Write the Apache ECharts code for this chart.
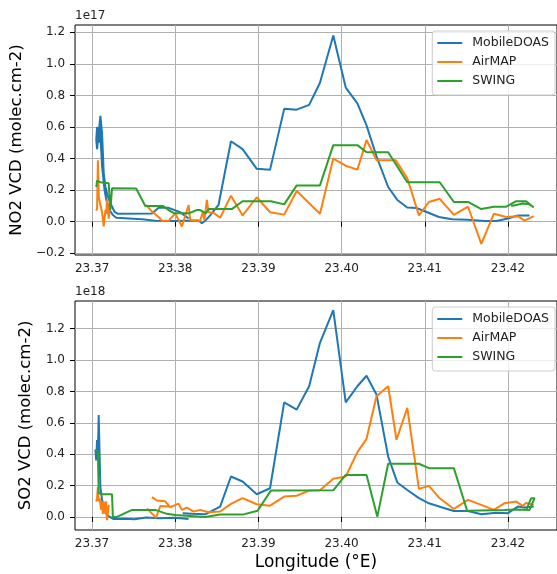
<!DOCTYPE html>
<html>
<head>
<meta charset="utf-8">
<script src="https://cdn.jsdelivr.net/npm/echarts@6/dist/echarts.min.js"></script>
<style>
html,body{margin:0;padding:0;background:#fff;}
#chart{width:557px;height:574px;}
</style>
</head>
<body>
<div id="chart"></div>
<script>
// ---- data (longitude in °E; NO2 in 1e17 molec/cm2, SO2 in 1e18 molec/cm2) ----
const seriesNames = ['MobileDOAS', 'AirMAP', 'SWING'];
const xTicks = [23.37, 23.38, 23.39, 23.40, 23.41, 23.42];
const no2Ticks = [-0.2, 0.0, 0.2, 0.4, 0.6, 0.8, 1.0, 1.2];
const so2Ticks = [0.0, 0.2, 0.4, 0.6, 0.8, 1.0, 1.2];

const no2MobileDOAS = [
  [23.3816, 0.02], [23.3806, 0.06], [23.3792, 0.088], [23.3780, 0.088], [23.3772, 0.052],
  [23.3731, 0.05], [23.3727, 0.063], [23.3723, 0.106], [23.3719, 0.159], [23.3716, 0.222],
  [23.3714, 0.307], [23.3712, 0.56], [23.3710, 0.67], [23.3709, 0.62], [23.3708, 0.50],
  [23.3707, 0.58], [23.3706, 0.60], [23.3705, 0.52], [23.3706, 0.46], [23.3708, 0.56],
  [23.3709, 0.62], [23.3711, 0.45], [23.3712, 0.35], [23.3715, 0.20], [23.3717, 0.14],
  [23.3721, 0.074], [23.3725, 0.042], [23.3729, 0.025], [23.3760, 0.015], [23.3776, 0.006],
  [23.3800, 0.004], [23.3828, 0.008], [23.3832, -0.01], [23.3836, 0.006], [23.3842, 0.04],
  [23.3852, 0.106], [23.3867, 0.51], [23.3881, 0.46], [23.3898, 0.335], [23.3914, 0.33],
  [23.3931, 0.715], [23.3946, 0.71], [23.3961, 0.74], [23.3974, 0.88], [23.3990, 1.18],
  [23.4005, 0.85], [23.4019, 0.75], [23.4030, 0.61], [23.4042, 0.414], [23.4056, 0.22],
  [23.4067, 0.138], [23.4079, 0.09], [23.4090, 0.087], [23.4103, 0.06], [23.4117, 0.03],
  [23.4133, 0.015], [23.4152, 0.012], [23.4172, 0.005], [23.4186, 0.005], [23.4200, 0.02],
  [23.4212, 0.04], [23.4226, 0.04]
];
const no2AirMAP = [
  [23.3705, 0.07], [23.3706, 0.085], [23.3707, 0.39], [23.3708, 0.16], [23.3709, 0.13],
  [23.3711, 0.13], [23.3712, 0.06], [23.3714, -0.03], [23.3715, -0.02], [23.3716, 0.074],
  [23.3717, 0.05], [23.3718, 0.14], [23.3719, 0.13], [23.3720, 0.02], [23.3722, 0.14],
  [23.3723, 0.14], [null, null],
  [23.3765, 0.106], [23.3771, 0.07], [23.3780, 0.03], [23.3784, 0.006], [23.3792, 0.006],
  [23.3800, 0.053], [23.3808, -0.03], [23.3816, 0.106], [23.3818, 0.01], [23.3830, 0.006],
  [23.3833, 0.06], [23.3835, 0.01], [23.3838, 0.138], [23.3840, 0.06], [23.3847, 0.053],
  [23.3854, 0.025], [23.3867, 0.165], [23.3881, 0.04], [23.3898, 0.155], [23.3914, 0.06],
  [23.3931, 0.045], [23.3946, 0.195], [23.3974, 0.05], [23.3990, 0.40], [23.4005, 0.355],
  [23.4019, 0.33], [23.4030, 0.518], [23.4042, 0.39], [23.4065, 0.39], [23.4079, 0.275],
  [23.4093, 0.04], [23.4105, 0.125], [23.4118, 0.145], [23.4135, 0.043], [23.4152, 0.095],
  [23.4168, -0.14], [23.4183, 0.05], [23.4198, 0.03], [23.4212, 0.035], [23.4220, 0.007],
  [23.4225, 0.02], [23.4231, 0.035]
];
const no2SWING = [
  [23.3705, 0.22], [23.3706, 0.26], [23.3708, 0.27], [23.3710, 0.25], [23.3712, 0.24],
  [23.3720, 0.244], [23.3722, 0.074], [23.3724, 0.212], [23.3753, 0.21], [23.3764, 0.10],
  [23.3785, 0.10], [23.3793, 0.07], [23.3799, 0.053], [23.3816, 0.053], [23.3826, 0.074],
  [23.3830, 0.074], [23.3837, 0.053], [23.3840, 0.08], [23.3868, 0.08], [23.3881, 0.13],
  [23.3915, 0.13], [23.3931, 0.11], [23.3946, 0.23], [23.3974, 0.23], [23.3990, 0.485],
  [23.4019, 0.485], [23.4030, 0.44], [23.4056, 0.44], [23.4079, 0.25], [23.4118, 0.25],
  [23.4135, 0.125], [23.4152, 0.125], [23.4168, 0.08], [23.4183, 0.095], [23.4198, 0.095],
  [23.4210, 0.13], [23.4222, 0.13], [23.4231, 0.09], [23.4226, 0.11], [23.4218, 0.115],
  [23.4204, 0.10]
];

const so2MobileDOAS = [
  [23.3704, 0.43], [23.3705, 0.36], [23.3706, 0.49], [23.3707, 0.40], [23.3708, 0.65],
  [23.3709, 0.41], [23.3710, 0.19], [23.3712, 0.11], [23.3715, 0.045], [23.3718, 0.01],
  [23.3726, -0.013], [23.3740, -0.012], [23.3751, -0.015], [23.3765, -0.003], [23.3780, -0.008],
  [23.3800, -0.005], [23.3816, -0.013], [null, null],
  [23.3809, 0.024], [23.3820, 0.02], [23.3836, 0.017], [23.3854, 0.066], [23.3867, 0.258],
  [23.3881, 0.226], [23.3898, 0.145], [23.3914, 0.183], [23.3931, 0.73], [23.3946, 0.684],
  [23.3961, 0.833], [23.3974, 1.11], [23.3990, 1.318], [23.4005, 0.73], [23.4019, 0.833],
  [23.4030, 0.90], [23.4042, 0.78], [23.4056, 0.385], [23.4067, 0.22], [23.4079, 0.172],
  [23.4093, 0.12], [23.4105, 0.087], [23.4121, 0.06], [23.4135, 0.038], [23.4152, 0.038],
  [23.4168, 0.017], [23.4186, 0.027], [23.4200, 0.024], [23.4212, 0.066], [23.4220, 0.06],
  [23.4231, 0.066]
];
const so2AirMAP = [
  [23.3705, 0.098], [23.3706, 0.12], [23.3707, 0.19], [23.3708, 0.10], [23.3709, 0.12],
  [23.3711, 0.045], [23.3712, 0.10], [23.3713, 0.02], [23.3714, 0.10], [23.3716, 0.02],
  [23.3717, 0.10], [23.3718, -0.02], [23.3720, 0.07], [23.3721, 0.075], [null, null],
  [23.3766, 0.055], [23.3777, -0.005], [23.3782, 0.07], [23.3795, 0.065], [null, null],
  [23.3772, 0.126], [23.3778, 0.105], [23.3788, 0.10], [23.3794, 0.062], [23.3804, 0.085],
  [23.3808, 0.045], [23.3814, 0.06], [23.3822, 0.034], [23.3830, 0.045], [23.3840, 0.03],
  [23.3854, 0.035], [23.3867, 0.083], [23.3881, 0.12], [23.3898, 0.081], [23.3914, 0.072],
  [23.3931, 0.13], [23.3946, 0.135], [23.3961, 0.168], [23.3974, 0.17], [23.3990, 0.243],
  [23.4005, 0.258], [23.4019, 0.413], [23.4030, 0.498], [23.4042, 0.769], [23.4056, 0.833],
  [23.4066, 0.492], [23.4079, 0.695], [23.4093, 0.179], [23.4105, 0.198], [23.4118, 0.119],
  [23.4135, 0.051], [23.4152, 0.109], [23.4168, 0.077], [23.4183, 0.045], [23.4196, 0.088],
  [23.4210, 0.098], [23.4218, 0.07], [23.4222, 0.09], [23.4231, 0.077]
];
const so2SWING = [
  [23.3704, 0.417], [23.3707, 0.42], [23.3708, 0.151], [23.3713, 0.145], [23.3724, 0.145],
  [23.3725, 0.0], [23.3730, 0.0], [23.3748, 0.045], [23.3776, 0.045], [23.3790, 0.02],
  [23.3800, 0.013], [23.3836, 0.0], [23.3854, 0.015], [23.3881, 0.015], [23.3899, 0.04],
  [23.3915, 0.168], [23.3990, 0.17], [23.4005, 0.268], [23.4030, 0.268], [23.4043, 0.002],
  [23.4056, 0.339], [23.4093, 0.339], [23.4105, 0.311], [23.4135, 0.311], [23.4151, 0.04],
  [23.4196, 0.045], [23.4210, 0.048], [23.4226, 0.045], [23.4232, 0.12], [23.4228, 0.12],
  [23.4222, 0.045]
];

// ---- chart ----
const colors = ['#1f77b4', '#ff7f0e', '#2ca02c'];
const FONT = 'DejaVu Sans';
const X_MIN = 23.36795, X_MAX = 23.4259;

function xAxisCfg(idx, withName) {
  return {
    type: 'value', gridIndex: idx, min: X_MIN, max: X_MAX,
    axisLine: {show: false},
    axisTick: {show: true, customValues: xTicks, length: 5, lineStyle: {color: '#000', width: 1}},
    axisLabel: {customValues: xTicks, formatter: v => v.toFixed(2), margin: 8,
      color: '#222', fontSize: 12, fontFamily: FONT},
    splitLine: {show: true, lineStyle: {color: '#b0b0b0', width: 1}},
    name: withName ? 'Longitude (°E)' : '',
    nameLocation: 'middle', nameGap: 24,
    nameTextStyle: {fontSize: 17, color: '#000', fontFamily: FONT}
  };
}
function yAxisCfg(idx, ticks, min, max, name) {
  return {
    type: 'value', gridIndex: idx, min: min, max: max,
    axisLine: {show: false},
    axisTick: {show: true, customValues: ticks, length: 5, lineStyle: {color: '#000', width: 1}},
    axisLabel: {customValues: ticks, margin: 10, color: '#222', fontSize: 12, fontFamily: FONT,
      formatter: v => (v < 0 ? '\u2212' + Math.abs(v).toFixed(1) : v.toFixed(1))},
    splitLine: {show: true, lineStyle: {color: '#b0b0b0', width: 1}},
    name: name, nameLocation: 'middle', nameGap: 41, nameRotate: 90,
    nameTextStyle: {fontSize: 16.5, color: '#000', fontFamily: FONT}
  };
}
function legendCfg(top) {
  return {
    data: seriesNames, orient: 'vertical', right: 2, top: top,
    icon: 'path://M0,0L25,0L25,2L0,2Z',
    itemWidth: 25, itemHeight: 2, itemGap: 5,
    padding: [5, 6, 7, 5],
    backgroundColor: 'rgba(255,255,255,0.8)', borderColor: '#cccccc', borderWidth: 1, borderRadius: 3,
    textStyle: {fontSize: 12.5, color: '#222', fontFamily: FONT, padding: [0, 0, 0, 5], lineHeight: 14},
    selectedMode: false
  };
}
const dataSets = [
  [no2MobileDOAS, no2AirMAP, no2SWING],
  [so2MobileDOAS, so2AirMAP, so2SWING]
];
const series = [];
dataSets.forEach((set, g) => {
  set.forEach((d, i) => {
    series.push({
      name: seriesNames[i], type: 'line', xAxisIndex: g, yAxisIndex: g,
      data: d, symbol: 'none', color: colors[i],
      lineStyle: {width: 2, color: colors[i]}, connectNulls: false,
      clip: true, animation: false, z: 2 + i
    });
  });
});

const chart = echarts.init(document.getElementById('chart'), null, {renderer: 'canvas'});
chart.setOption({
  animation: false,
  backgroundColor: '#fff',
  grid: [
    {left: 75, top: 25, width: 488, height: 230, show: true, borderColor: '#000', borderWidth: 1, backgroundColor: 'transparent'},
    {left: 75, top: 301, width: 488, height: 229, show: true, borderColor: '#000', borderWidth: 1, backgroundColor: 'transparent'}
  ],
  xAxis: [xAxisCfg(0, false), xAxisCfg(1, true)],
  yAxis: [
    yAxisCfg(0, no2Ticks, -0.2108, 1.2462, 'NO2 VCD (molec.cm-2)'),
    yAxisCfg(1, so2Ticks, -0.0831, 1.3765, 'SO2 VCD (molec.cm-2)')
  ],
  legend: [legendCfg(31), legendCfg(307)],
  graphic: [
    {type: 'text', left: 75, top: 10, style: {text: '1e17', fontSize: 12, fill: '#222', fontFamily: FONT}},
    {type: 'text', left: 75, top: 286, style: {text: '1e18', fontSize: 12, fill: '#222', fontFamily: FONT}}
  ],
  series: series
});
</script>
</body>
</html>
